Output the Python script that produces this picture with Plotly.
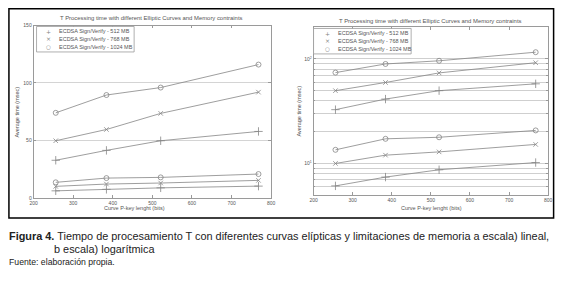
import plotly.graph_objects as go

# ---------------- data ----------------
key_bits = [256, 384, 521, 768]
series_names = ["ECDSA Sign/Verify - 512 MB",
                "ECDSA Sign/Verify - 768 MB",
                "ECDSA Sign/Verify - 1024 MB"]
upper_512 = [32.7, 41.3, 49.7, 57.8]
upper_768 = [49.7, 59.5, 73.5, 92.0]
upper_1024 = [74.0, 89.5, 96.0, 116.0]
lower_512 = [6.1, 7.4, 8.7, 10.2]
lower_768 = [10.0, 12.0, 12.9, 15.2]
lower_1024 = [13.5, 17.2, 17.8, 20.7]
x_ticks = [200, 300, 400, 500, 600, 700, 800]
lin_y_ticks = [0, 50, 100, 150]
log_y_ticks = [10, 100]
log_y_ticktext = ["10<sup>1</sup>", "10<sup>2</sup>"]
log_minor = [5, 6, 7, 8, 9, 20, 30, 40, 50, 60, 70, 80, 90, 200]
chart_title = "T Processing time with different Elliptic Curves and Memory contraints"
x_title = "Curve P-key lenght (bits)"
y_title = "Average time (msec)"
legend_symbols = ["+", "×", "○"]

W, H = 565, 287
def px(x):
    return x / W
def py(y):
    return 1 - y / H

symbols = ["cross-thin-open", "x-thin-open", "circle-open"]
sizes = [6, 4.5, 5]
gray = "#858585"
txt = "#555555"

fig = go.Figure()
upper = [upper_512, upper_768, upper_1024]
lower = [lower_512, lower_768, lower_1024]
for ax in ["", "2"]:
    for group in (upper, lower):
        for i, vals in enumerate(group):
            fig.add_trace(go.Scatter(
                x=key_bits, y=vals, mode="lines+markers",
                xaxis="x" + ax, yaxis="y" + ax,
                name=series_names[i], showlegend=False,
                line=dict(color=gray, width=0.8),
                marker=dict(symbol=symbols[i], size=sizes[i], color=gray,
                            line=dict(color=gray, width=0.8)),
                cliponaxis=False,
            ))

axis_common = dict(showline=True, linecolor="#9a9a9a", linewidth=0.8,
                   mirror="ticks", ticks="inside", ticklen=3,
                   tickcolor="#9a9a9a", tickwidth=0.7,
                   tickfont=dict(size=5, color=txt, family="Liberation Sans"),
                   zeroline=False)

fig.update_layout(
    width=W, height=H, margin=dict(l=0, r=0, t=0, b=0),
    paper_bgcolor="white", plot_bgcolor="white", showlegend=False,
    xaxis=dict(domain=[px(30), px(271)], range=[200, 800], anchor="y",
               tickvals=x_ticks, showgrid=False, **axis_common),
    yaxis=dict(domain=[py(199), py(23)], range=[0, 150], anchor="x",
               tickvals=lin_y_ticks, showgrid=True, gridcolor="#d4d4d4",
               gridwidth=0.7, **axis_common),
    xaxis2=dict(domain=[px(314), px(552)], range=[200, 800], anchor="y2",
                tickvals=x_ticks, showgrid=False, **axis_common),
    yaxis2=dict(domain=[py(196), py(25)], type="log",
                range=[0.69897, 2.30103], anchor="x2",
                tickvals=log_y_ticks, ticktext=log_y_ticktext,
                showgrid=True, gridcolor="#cfcfcf", gridwidth=0.7,
                minor=dict(tickvals=log_minor, showgrid=True,
                           gridcolor="#cfcfcf", gridwidth=0.7,
                           ticks="inside", ticklen=2, tickcolor="#9a9a9a"),
                **axis_common),
)

ann = []
small = dict(size=5.5, color=txt, family="Liberation Sans")
ttl = dict(size=5.9, color=txt, family="Liberation Sans")
# chart titles
ann.append(dict(x=px(150), y=py(15), text=chart_title, showarrow=False,
                xref="paper", yref="paper", font=ttl, xanchor="center", yanchor="middle"))
ann.append(dict(x=px(433), y=py(18), text=chart_title, showarrow=False,
                xref="paper", yref="paper", font=ttl, xanchor="center", yanchor="middle"))
# axis titles
ann.append(dict(x=px(132), y=py(209), text=x_title, showarrow=False,
                xref="paper", yref="paper", font=small, xanchor="center", yanchor="middle"))
ann.append(dict(x=px(434), y=py(209), text=x_title, showarrow=False,
                xref="paper", yref="paper", font=small, xanchor="center", yanchor="middle"))
ann.append(dict(x=px(13), y=py(111), text=y_title, showarrow=False, textangle=-90,
                xref="paper", yref="paper", font=small, xanchor="center", yanchor="middle"))
ann.append(dict(x=px(299), y=py(110), text=y_title, showarrow=False, textangle=-90,
                xref="paper", yref="paper", font=small, xanchor="center", yanchor="middle"))

shapes = []
# legends
for (lx0, lx1, ly0, ly1, symx) in [(33, 132, 24, 50, 45), (314, 413, 26, 52, 328)]:
    shapes.append(dict(type="rect", xref="paper", yref="paper",
                       x0=px(lx0), x1=px(lx1), y0=py(ly1), y1=py(ly0),
                       line=dict(color="#9a9a9a", width=0.8), fillcolor="white", layer="above"))
    for i, name in enumerate(series_names):
        yy = ly0 + 4.8 + i * 7.9
        ann.append(dict(x=px(symx), y=py(yy), text=legend_symbols[i], showarrow=False,
                        xref="paper", yref="paper",
                        font=dict(size=6 if i < 2 else 5.5, color=gray, family="DejaVu Sans"),
                        xanchor="center", yanchor="middle"))
        ann.append(dict(x=px(symx + 9), y=py(yy), text=name, showarrow=False,
                        xref="paper", yref="paper", font=small,
                        xanchor="left", yanchor="middle"))

# outer frame
shapes.append(dict(type="rect", xref="paper", yref="paper",
                   x0=px(5), x1=px(557.5), y0=py(219.5), y1=py(6),
                   line=dict(color="black", width=1.5)))

cap = dict(family="Liberation Sans", size=10.9, color="#222222")
ann.append(dict(x=px(3), y=py(237.5), text="<b>Figura 4.</b> Tiempo de procesamiento T con diferentes curvas elípticas y limitaciones de memoria a escala) lineal,",
                showarrow=False, xref="paper", yref="paper", font=cap,
                xanchor="left", yanchor="middle"))
ann.append(dict(x=px(49), y=py(251.5), text="b escala) logarítmica",
                showarrow=False, xref="paper", yref="paper", font=cap,
                xanchor="left", yanchor="middle"))
ann.append(dict(x=px(3), y=py(265), text="Fuente: elaboración propia.",
                showarrow=False, xref="paper", yref="paper",
                font=dict(family="Liberation Sans", size=8.7, color="#222222"),
                xanchor="left", yanchor="middle"))

fig.update_layout(annotations=ann, shapes=shapes)
fig.write_html("out.html", config={"displayModeBar": False},
               post_script="document.body.style.margin='0px';document.body.style.overflow='hidden';")
